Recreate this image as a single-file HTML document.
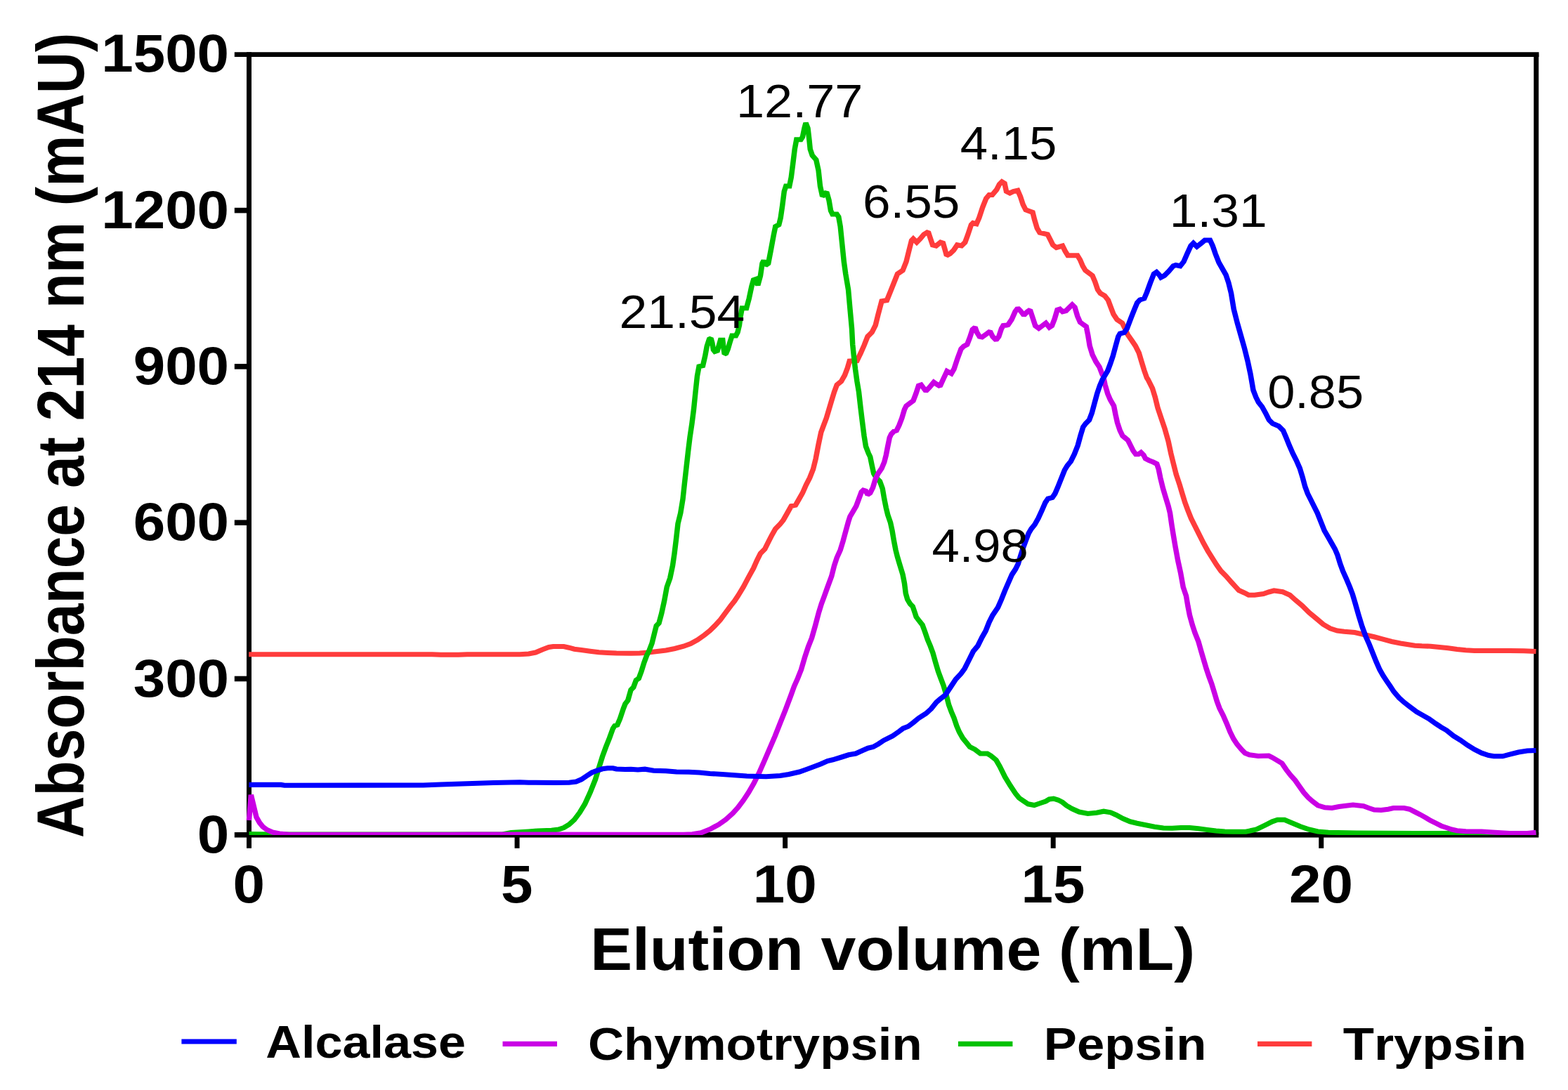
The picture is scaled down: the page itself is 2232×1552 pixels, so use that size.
<!DOCTYPE html>
<html lang="en"><head><meta charset="utf-8"><title>Elution profile</title>
<style>
html,body{margin:0;padding:0;background:#fff;overflow:hidden;}
svg{display:block;}
text{font-family:"Liberation Sans", Arial, Helvetica, sans-serif;fill:#000;font-kerning:none;}
#curves path{fill:none;stroke-width:7.1;stroke-linejoin:miter;stroke-miterlimit:1.5;stroke-linecap:butt;}
#legend path{fill:none;stroke-width:7.2;}
</style></head>
<body>
<svg xmlns="http://www.w3.org/2000/svg" width="2232" height="1552" viewBox="0 0 2232 1552">
<rect width="2232" height="1552" fill="#fff"/>
<g stroke="#000" stroke-width="7.00" fill="none"><path d="M354.5 74.30 V1207.8" /><path d="M333.8 77.7 H2190.55" stroke-width="6.8"/><path d="M333.8 1188.75 H2190.25" stroke-width="7.6"/><path d="M2186.75 77.3 V1188.75" /><path d="M333.8 966.46 H354.5" stroke-width="7.6"/><path d="M333.8 744.17 H354.5" stroke-width="7.6"/><path d="M333.8 521.88 H354.5" stroke-width="7.6"/><path d="M333.8 299.59 H354.5" stroke-width="7.6"/><path d="M736.06 1188.75 V1207.8" /><path d="M1117.62 1188.75 V1207.8" /><path d="M1499.19 1188.75 V1207.8" /><path d="M1880.75 1188.75 V1207.8" /></g>
<clipPath id="pc"><rect x="340" y="60" width="1860" height="1129.06"/></clipPath>
<g id="curves" clip-path="url(#pc)"><g transform="scale(1.06 1)">
<path d="M334.2 931.8 L580.2 931.8 L592.0 932.2 L615.6 932.2 L627.4 931.8 L698.1 931.8 L709.9 931.0 L719.3 929.0 L728.8 924.8 L737.0 921.5 L742.9 920.5 L757.1 920.5 L764.2 922.2 L771.2 924.2 L780.7 925.5 L792.5 927.2 L804.2 928.8 L816.0 929.5 L827.8 930.0 L847.2 930.2 L859.0 930.0 L870.8 929.0 L882.5 927.5 L894.3 926.0 L906.1 923.5 L917.9 920.2 L927.4 916.5 L936.8 911.0 L946.2 904.0 L953.3 898.0 L960.4 890.5 L967.5 882.2 L974.5 872.2 L981.6 862.2 L986.3 856.0 L991.0 848.5 L998.1 836.0 L1005.9 820.5 L1011.8 809.2 L1016.5 798.0 L1021.2 788.0 L1027.1 781.8 L1031.8 771.8 L1036.6 761.8 L1041.3 753.0 L1047.2 746.8 L1051.9 740.5 L1056.6 731.8 L1062.5 720.5 L1068.4 719.2 L1073.1 710.5 L1077.8 701.8 L1082.5 690.5 L1087.3 680.5 L1092.0 668.0 L1095.5 653.0 L1099.1 633.0 L1102.6 615.5 L1106.1 605.5 L1109.7 595.5 L1113.2 583.0 L1116.7 570.5 L1120.3 558.0 L1123.8 548.0 L1129.7 543.0 L1134.4 534.2 L1138.0 524.2 L1140.8 514.2 L1150.9 513.5 L1155.7 503.0 L1160.4 491.8 L1165.1 479.2 L1171.0 473.0 L1175.7 463.0 L1179.2 448.0 L1184.0 428.8 L1191.0 427.5 L1195.8 415.0 L1200.5 402.5 L1205.2 390.0 L1212.3 385.0 L1217.0 372.5 L1220.5 357.5 L1224.1 342.5 L1226.4 340.0 L1231.1 345.0 L1235.8 340.0 L1240.6 333.8 L1246.5 330.0 L1248.8 337.5 L1252.4 348.8 L1257.1 350.0 L1263.0 345.0 L1266.5 346.2 L1268.9 355.0 L1271.2 363.8 L1275.9 361.2 L1280.7 356.2 L1285.4 348.8 L1291.3 350.0 L1296.0 345.0 L1299.5 335.0 L1304.2 320.0 L1306.6 317.5 L1311.3 318.8 L1314.9 310.0 L1319.6 295.0 L1324.3 282.5 L1328.3 277.5 L1332.5 277.5 L1338.4 270.0 L1342.0 262.5 L1345.5 258.8 L1349.1 261.2 L1351.4 272.5 L1356.1 275.0 L1360.8 272.5 L1366.7 271.2 L1370.3 280.0 L1373.8 291.2 L1377.4 298.8 L1386.8 302.5 L1389.2 312.5 L1392.7 325.0 L1396.2 331.2 L1406.8 333.8 L1410.4 341.2 L1413.9 348.8 L1418.6 352.5 L1426.9 350.0 L1430.4 357.5 L1434.0 363.8 L1438.7 363.8 L1446.9 363.8 L1450.5 370.0 L1454.0 378.8 L1457.5 385.0 L1462.3 388.8 L1467.0 392.5 L1470.5 401.2 L1474.1 412.5 L1477.6 417.5 L1483.5 421.2 L1488.2 427.5 L1491.7 437.5 L1495.3 447.5 L1500.0 455.0 L1507.1 460.0 L1510.6 467.5 L1514.2 476.2 L1520.0 485.0 L1524.8 492.5 L1529.5 502.5 L1533.0 515.0 L1536.6 527.5 L1540.1 538.0 L1541.7 540.5 L1547.6 553.0 L1551.2 565.5 L1554.7 580.5 L1559.4 595.5 L1564.2 610.5 L1568.9 628.0 L1572.4 645.5 L1575.9 660.5 L1579.5 675.5 L1584.2 690.5 L1587.7 703.0 L1591.3 715.5 L1594.8 725.5 L1599.5 738.0 L1604.2 748.0 L1610.1 760.5 L1616.0 773.0 L1621.9 784.2 L1627.8 794.2 L1633.7 804.2 L1639.6 813.0 L1646.7 820.5 L1653.8 829.2 L1659.7 836.0 L1663.7 840.5 L1670.8 844.0 L1676.7 847.2 L1684.9 847.2 L1696.7 845.5 L1703.8 843.0 L1710.8 841.0 L1722.6 842.8 L1732.1 847.2 L1739.2 854.0 L1748.6 862.2 L1758.0 872.2 L1767.5 880.5 L1776.9 889.0 L1786.3 894.8 L1795.8 898.0 L1805.2 899.2 L1819.3 900.5 L1833.5 904.0 L1845.3 906.8 L1857.1 910.2 L1868.9 913.5 L1880.7 916.0 L1900.0 919.2 L1909.4 919.8 L1921.2 920.2 L1933.0 921.5 L1944.8 922.8 L1956.6 924.5 L1968.4 925.8 L1980.2 926.5 L2003.8 926.5 L2027.4 926.5 L2046.2 926.8 L2062.7 927.5" stroke="#ff3c3c"/>
<path d="M334.4 1187.5 L367.9 1188.0 L660.4 1188.0 L674.5 1188.0 L686.3 1185.5 L709.9 1184.0 L721.7 1183.0 L740.6 1182.2 L750.0 1181.0 L757.1 1178.5 L764.2 1174.0 L771.2 1167.2 L778.3 1157.2 L785.4 1144.8 L792.5 1128.5 L799.5 1109.8 L804.2 1093.5 L809.0 1077.2 L813.7 1063.5 L818.4 1051.0 L823.1 1037.2 L825.5 1033.5 L829.0 1032.2 L832.5 1023.5 L837.3 1008.5 L839.6 1002.2 L843.2 997.2 L847.2 982.2 L850.7 978.5 L854.2 968.5 L857.8 966.0 L861.3 956.0 L864.9 943.5 L868.4 933.5 L871.9 926.0 L875.5 916.0 L879.0 901.0 L881.4 891.0 L884.9 887.2 L888.4 873.5 L892.0 856.0 L895.5 836.0 L899.8 823.0 L903.3 805.5 L905.7 788.0 L908.0 768.0 L910.4 745.5 L913.9 730.5 L917.0 710.5 L919.3 688.0 L921.7 665.5 L924.1 643.0 L926.4 623.0 L929.2 603.0 L931.6 583.0 L934.0 558.0 L936.3 535.5 L938.7 521.8 L943.9 520.5 L946.9 506.8 L949.3 493.0 L952.4 483.0 L954.7 481.8 L956.4 488.0 L958.0 498.0 L959.9 500.5 L963.4 499.2 L965.8 490.5 L967.5 484.2 L970.5 484.2 L971.7 495.5 L972.9 504.2 L975.2 503.0 L977.6 496.8 L980.0 488.0 L983.0 478.0 L988.2 478.0 L990.6 473.0 L992.9 463.0 L994.1 452.5 L996.5 438.8 L1002.4 438.8 L1005.9 425.0 L1009.4 407.5 L1011.8 398.8 L1015.3 397.5 L1017.7 406.2 L1021.2 392.5 L1023.6 375.0 L1025.5 371.2 L1028.3 377.5 L1031.8 375.0 L1035.4 355.0 L1038.9 335.0 L1041.3 322.5 L1046.0 320.0 L1048.3 310.0 L1050.7 292.5 L1053.1 272.5 L1055.4 265.0 L1060.1 265.0 L1062.5 252.5 L1064.9 232.5 L1067.2 212.5 L1069.6 198.8 L1075.5 198.8 L1077.8 195.0 L1080.2 182.5 L1082.1 175.0 L1084.9 182.5 L1086.8 200.0 L1088.0 212.5 L1090.8 221.2 L1096.0 227.5 L1099.1 242.5 L1101.4 265.0 L1104.4 279.5 L1110.1 273.5 L1113.2 285.0 L1115.6 300.0 L1117.9 305.0 L1123.8 305.0 L1126.2 308.8 L1128.5 322.5 L1130.9 347.5 L1133.3 372.5 L1135.6 390.0 L1139.2 412.5 L1141.5 440.0 L1143.9 468.0 L1145.0 490.5 L1146.7 508.0 L1148.6 525.5 L1150.9 543.0 L1153.3 558.0 L1155.7 580.5 L1158.0 600.5 L1160.4 620.5 L1162.7 635.5 L1166.3 645.5 L1168.6 650.5 L1171.0 663.0 L1173.3 674.2 L1176.9 680.5 L1181.6 685.5 L1185.1 695.5 L1187.5 710.5 L1189.9 723.0 L1192.2 733.0 L1195.8 744.2 L1198.1 755.5 L1200.5 770.5 L1202.8 783.0 L1205.2 793.0 L1208.7 805.5 L1212.3 818.0 L1214.6 830.5 L1216.3 844.8 L1218.6 853.5 L1222.2 859.8 L1225.7 863.5 L1228.1 871.0 L1230.4 878.5 L1234.0 883.5 L1238.7 889.8 L1242.2 899.8 L1245.8 911.0 L1249.3 919.8 L1252.8 929.8 L1256.4 943.5 L1259.9 956.0 L1263.4 966.0 L1267.0 976.0 L1270.5 988.5 L1274.1 1003.5 L1277.6 1013.5 L1281.1 1022.2 L1284.7 1033.5 L1288.2 1042.2 L1292.9 1051.0 L1297.6 1057.2 L1302.4 1063.5 L1309.4 1067.2 L1316.5 1073.0 L1325.9 1073.0 L1330.7 1076.0 L1337.7 1082.2 L1342.5 1091.0 L1349.5 1106.0 L1356.6 1118.5 L1363.7 1129.8 L1368.4 1136.0 L1373.6 1139.8 L1380.7 1144.8 L1388.9 1146.5 L1397.2 1143.5 L1404.2 1141.0 L1409.0 1138.0 L1414.9 1137.2 L1420.8 1139.0 L1426.7 1142.2 L1432.5 1147.2 L1439.6 1151.5 L1449.1 1156.0 L1460.8 1158.5 L1472.6 1157.2 L1482.1 1155.2 L1491.5 1156.8 L1498.6 1160.2 L1508.0 1165.5 L1517.5 1169.8 L1526.9 1172.2 L1538.7 1174.8 L1550.5 1177.2 L1562.3 1179.0 L1574.1 1179.2 L1585.8 1178.5 L1597.6 1178.5 L1609.4 1179.8 L1621.2 1181.5 L1633.0 1183.0 L1644.8 1184.0 L1656.6 1184.2 L1673.1 1184.2 L1687.3 1181.0 L1699.1 1174.8 L1708.5 1169.8 L1715.6 1167.2 L1725.0 1167.2 L1734.4 1171.5 L1746.2 1176.8 L1758.0 1181.0 L1769.8 1184.0 L1784.0 1185.2 L1821.7 1186.0 L1900.0 1186.5 L1909.4 1186.5 L2062.7 1186.5" stroke="#00c200"/>
<path d="M334.4 1168.0 L337.1 1131.8 L340.8 1148.0 L344.3 1163.5 L348.6 1171.5 L352.8 1177.0 L358.5 1181.5 L366.0 1185.0 L375.5 1187.0 L388.7 1188.2 L415.1 1188.4 L603.8 1188.4 L627.4 1188.0 L698.1 1188.0 L849.1 1188.4 L905.7 1188.4 L917.9 1188.2 L929.7 1187.8 L941.5 1185.8 L953.3 1180.8 L965.1 1174.0 L974.5 1167.0 L984.0 1158.0 L991.0 1149.8 L998.1 1139.8 L1005.2 1128.5 L1012.3 1115.5 L1019.3 1100.5 L1026.4 1083.5 L1033.5 1066.0 L1040.6 1048.5 L1047.6 1029.8 L1054.7 1011.0 L1061.8 991.0 L1066.5 977.2 L1071.2 966.0 L1075.9 953.5 L1080.7 936.0 L1085.4 921.0 L1090.1 908.5 L1094.8 891.0 L1099.5 872.2 L1103.1 859.8 L1106.6 849.8 L1111.3 836.0 L1116.7 820.5 L1120.3 805.5 L1123.8 794.2 L1128.5 783.0 L1132.1 770.5 L1135.6 756.8 L1139.2 743.0 L1141.5 735.5 L1145.0 729.2 L1149.8 720.5 L1153.3 710.5 L1156.8 700.5 L1159.2 698.0 L1162.7 699.2 L1165.1 704.2 L1168.6 701.8 L1172.2 694.2 L1175.7 681.8 L1179.2 674.2 L1184.0 666.8 L1187.5 658.0 L1189.9 648.0 L1192.2 635.5 L1194.6 623.0 L1196.9 618.0 L1200.5 614.2 L1204.0 613.0 L1207.5 605.5 L1211.1 595.5 L1214.6 583.0 L1217.0 578.0 L1221.7 574.2 L1226.4 570.5 L1230.0 560.5 L1233.5 549.2 L1237.0 548.0 L1240.6 553.0 L1243.4 556.8 L1248.1 551.8 L1254.0 544.2 L1257.5 546.8 L1262.3 550.0 L1267.0 539.2 L1271.7 528.5 L1277.6 531.8 L1281.1 525.5 L1285.8 510.5 L1290.6 496.8 L1294.1 493.0 L1298.8 490.5 L1302.4 480.5 L1305.9 469.2 L1309.4 466.0 L1311.8 473.0 L1315.3 479.2 L1318.9 480.0 L1324.8 475.5 L1329.5 471.8 L1333.0 479.2 L1337.7 484.2 L1341.3 479.2 L1344.8 468.0 L1347.2 463.5 L1351.9 463.0 L1353.8 462.5 L1358.5 455.0 L1363.2 443.8 L1366.7 438.8 L1370.3 442.5 L1375.0 448.8 L1379.7 443.8 L1383.3 441.2 L1386.8 452.5 L1390.3 463.8 L1395.0 467.5 L1399.8 463.8 L1404.5 460.0 L1409.2 466.2 L1412.7 463.8 L1416.3 453.8 L1419.8 441.2 L1423.3 440.0 L1426.9 443.8 L1431.6 442.5 L1436.3 437.5 L1439.9 433.8 L1443.4 437.5 L1446.9 450.0 L1450.5 458.8 L1455.2 462.5 L1458.7 465.0 L1461.1 477.5 L1463.4 492.5 L1467.0 505.0 L1471.7 515.0 L1476.4 522.5 L1480.0 532.5 L1481.6 535.5 L1484.0 548.0 L1487.5 560.5 L1491.0 569.2 L1495.8 578.0 L1498.1 590.5 L1500.5 601.8 L1504.0 613.0 L1507.5 620.5 L1514.6 626.8 L1518.2 634.2 L1521.7 641.8 L1525.2 646.8 L1528.8 646.8 L1532.3 644.2 L1535.8 648.0 L1538.2 653.0 L1542.9 655.5 L1548.8 658.0 L1553.5 660.5 L1555.9 668.0 L1558.3 680.5 L1561.8 695.5 L1565.3 708.0 L1568.9 720.5 L1571.2 730.5 L1573.6 748.0 L1575.9 763.0 L1578.3 778.0 L1581.8 798.0 L1585.4 815.5 L1588.9 836.0 L1592.9 848.5 L1595.3 863.5 L1597.6 876.0 L1601.2 889.8 L1604.7 901.0 L1609.4 913.5 L1613.0 927.2 L1616.5 939.8 L1620.0 952.2 L1623.6 963.5 L1627.1 973.5 L1630.7 986.0 L1634.2 998.5 L1637.7 1008.5 L1642.5 1018.5 L1647.2 1029.8 L1651.9 1042.2 L1656.6 1052.2 L1661.3 1059.8 L1667.2 1067.2 L1671.9 1072.2 L1677.8 1074.8 L1689.6 1076.5 L1703.8 1076.0 L1708.5 1078.5 L1714.4 1082.2 L1721.5 1086.8 L1727.4 1096.0 L1733.3 1104.0 L1739.2 1111.0 L1745.0 1119.8 L1750.9 1128.5 L1756.8 1135.5 L1762.7 1141.0 L1769.8 1146.8 L1779.2 1149.8 L1788.7 1150.5 L1798.1 1148.5 L1807.5 1147.2 L1817.0 1146.0 L1831.1 1147.8 L1838.2 1150.5 L1845.3 1153.0 L1854.7 1153.5 L1864.2 1152.2 L1871.2 1150.5 L1885.4 1150.5 L1892.9 1152.2 L1900.0 1156.0 L1907.1 1159.8 L1914.2 1164.0 L1921.2 1168.5 L1928.3 1172.2 L1935.4 1176.0 L1942.5 1178.5 L1949.5 1181.0 L1956.6 1182.8 L1968.4 1183.8 L1989.6 1184.0 L2003.8 1185.0 L2027.4 1186.5 L2050.9 1186.5 L2062.7 1185.2" stroke="#ca00e5"/>
<path d="M334.4 1117.4 L377.4 1117.4 L382.1 1118.2 L568.4 1118.0 L592.0 1117.0 L627.4 1115.8 L662.7 1114.5 L698.1 1113.8 L709.9 1114.2 L745.3 1114.5 L764.2 1114.2 L773.6 1113.0 L780.7 1109.8 L787.7 1104.8 L794.8 1100.0 L801.9 1097.2 L809.0 1094.8 L816.0 1093.8 L823.1 1093.8 L827.8 1095.0 L839.6 1095.5 L847.2 1095.2 L856.6 1096.0 L866.0 1095.2 L877.8 1097.2 L894.3 1097.8 L908.5 1099.0 L925.0 1099.2 L939.2 1100.0 L953.3 1101.5 L969.8 1102.5 L986.3 1103.8 L1002.8 1105.0 L1019.3 1105.5 L1028.8 1105.8 L1047.6 1104.5 L1059.4 1102.5 L1073.6 1099.0 L1083.0 1095.5 L1092.5 1091.8 L1101.9 1088.0 L1111.3 1083.5 L1118.4 1081.8 L1130.2 1078.0 L1139.6 1074.8 L1149.1 1073.0 L1158.5 1068.5 L1165.6 1065.2 L1172.6 1063.5 L1179.7 1059.2 L1186.8 1054.2 L1198.6 1048.0 L1208.0 1041.0 L1212.7 1037.2 L1219.8 1034.2 L1226.9 1028.5 L1234.0 1022.2 L1243.4 1016.0 L1250.5 1009.2 L1257.5 999.8 L1262.3 995.5 L1269.3 989.8 L1276.4 978.5 L1283.5 967.2 L1290.6 959.0 L1295.3 952.2 L1302.4 937.2 L1307.1 927.2 L1313.0 919.8 L1318.9 907.2 L1323.6 898.5 L1328.3 886.0 L1333.0 876.0 L1340.1 864.8 L1344.8 853.5 L1349.5 841.0 L1359.0 818.0 L1363.7 810.5 L1367.2 803.0 L1370.8 790.5 L1374.3 779.2 L1377.8 769.2 L1381.4 759.2 L1384.9 753.0 L1389.6 746.8 L1394.3 738.0 L1399.1 726.8 L1403.8 715.5 L1407.3 710.0 L1413.2 708.5 L1416.7 703.0 L1420.3 694.2 L1425.0 681.8 L1429.7 669.2 L1433.3 663.0 L1438.0 656.8 L1442.7 646.8 L1447.4 634.2 L1450.9 620.5 L1454.5 608.0 L1458.0 603.0 L1462.7 598.0 L1466.3 588.0 L1469.8 574.2 L1473.3 560.5 L1476.9 549.2 L1480.4 540.5 L1484.0 534.2 L1487.5 528.0 L1491.0 518.0 L1494.6 506.8 L1498.1 493.0 L1501.7 479.2 L1504.0 475.0 L1509.9 473.5 L1513.4 468.0 L1518.9 452.5 L1523.6 440.0 L1527.1 431.2 L1530.7 427.0 L1536.6 425.0 L1540.1 416.2 L1544.8 402.5 L1549.5 390.0 L1553.1 387.5 L1556.6 391.2 L1559.0 395.0 L1563.7 392.5 L1569.6 386.2 L1575.5 378.8 L1579.0 377.5 L1584.9 378.8 L1589.6 372.5 L1594.3 361.2 L1599.1 350.0 L1602.6 346.2 L1607.3 351.2 L1613.2 346.2 L1617.9 342.0 L1625.0 342.0 L1628.5 350.0 L1632.1 361.2 L1636.8 373.8 L1641.5 382.5 L1646.2 391.2 L1649.8 402.5 L1653.3 417.5 L1656.8 440.0 L1661.6 460.0 L1666.3 477.5 L1671.0 495.0 L1675.7 515.0 L1679.2 532.5 L1683.0 555.5 L1686.6 565.5 L1690.1 573.0 L1694.8 579.2 L1699.5 588.0 L1704.2 598.0 L1709.0 603.0 L1717.2 606.8 L1723.1 613.0 L1726.7 621.8 L1731.4 634.2 L1736.1 645.5 L1740.8 655.5 L1745.5 666.8 L1749.1 679.2 L1752.6 693.0 L1756.1 703.0 L1759.7 710.5 L1764.4 720.5 L1769.1 730.5 L1773.8 743.0 L1778.5 755.5 L1783.3 764.2 L1788.0 773.0 L1792.7 781.8 L1796.2 790.5 L1799.8 803.0 L1803.3 813.0 L1808.0 824.2 L1812.7 836.0 L1816.3 846.0 L1819.8 858.5 L1824.5 876.0 L1829.2 892.2 L1834.0 906.0 L1838.7 917.2 L1843.4 929.8 L1848.1 942.2 L1852.8 953.5 L1857.5 962.2 L1862.3 969.8 L1867.0 977.2 L1871.7 984.8 L1878.8 993.5 L1885.8 1000.2 L1892.9 1006.0 L1902.4 1013.5 L1909.4 1017.8 L1918.9 1023.5 L1928.3 1030.5 L1935.4 1035.5 L1942.5 1039.8 L1951.9 1047.8 L1961.3 1054.0 L1970.8 1061.0 L1980.2 1067.2 L1989.6 1072.2 L1999.1 1075.5 L2006.1 1076.8 L2017.9 1076.8 L2027.4 1074.2 L2039.2 1071.0 L2050.9 1069.0 L2062.7 1068.5" stroke="#0000ff"/>
</g></g>
<g id="legend"><path d="M258.4 1483.0 H336.8" stroke="#0000ff"/><path d="M715.5 1486.4 H793.0" stroke="#ca00e5"/><path d="M1363.95 1486.4 H1441.4" stroke="#00c200"/><path d="M1790.0 1486.4 H1867.4" stroke="#ff3c3c"/></g>
<g id="labels">
<text transform="translate(326.10 1213.90) scale(1.0830 1)" font-size="75.50" font-weight="bold" text-anchor="end">0</text>
<text transform="translate(326.10 991.61) scale(1.0830 1)" font-size="75.50" font-weight="bold" text-anchor="end">300</text>
<text transform="translate(326.10 769.32) scale(1.0830 1)" font-size="75.50" font-weight="bold" text-anchor="end">600</text>
<text transform="translate(326.10 547.03) scale(1.0830 1)" font-size="75.50" font-weight="bold" text-anchor="end">900</text>
<text transform="translate(326.10 324.74) scale(1.0830 1)" font-size="75.50" font-weight="bold" text-anchor="end">1200</text>
<text transform="translate(326.10 102.45) scale(1.0830 1)" font-size="75.50" font-weight="bold" text-anchor="end">1500</text>
<text transform="translate(354.20 1285.40) scale(1.0830 1)" font-size="75.50" font-weight="bold" text-anchor="middle">0</text>
<text transform="translate(735.76 1285.40) scale(1.0830 1)" font-size="75.50" font-weight="bold" text-anchor="middle">5</text>
<text transform="translate(1117.33 1285.40) scale(1.0830 1)" font-size="75.50" font-weight="bold" text-anchor="middle">10</text>
<text transform="translate(1498.89 1285.40) scale(1.0830 1)" font-size="75.50" font-weight="bold" text-anchor="middle">15</text>
<text transform="translate(1880.45 1285.40) scale(1.0830 1)" font-size="75.50" font-weight="bold" text-anchor="middle">20</text>
<text transform="translate(840.20 1381.30) scale(1.0564 1)" font-size="84.80" font-weight="bold">Elution volume (mL)</text>
<text transform="translate(119.30 1192.90) rotate(-90) scale(0.8744 1)" font-size="94.00" font-weight="bold">Absorbance at 214 nm (mAU)</text>
<text transform="translate(378.25 1505.80) scale(1.0880 1)" font-size="64.50" font-weight="bold">Alcalase</text>
<text transform="translate(837.00 1508.70) scale(1.0970 1)" font-size="64.50" font-weight="bold">Chymotrypsin</text>
<text transform="translate(1485.80 1508.70) scale(1.0950 1)" font-size="64.50" font-weight="bold">Pepsin</text>
<text transform="translate(1911.70 1508.70) scale(1.1220 1)" font-size="64.50" font-weight="bold">Trypsin</text>
<text transform="translate(1048.00 166.80) scale(1.0860 1)" font-size="66.40">12.77</text>
<text transform="translate(1366.70 226.70) scale(1.0650 1)" font-size="66.40">4.15</text>
<text transform="translate(1227.90 310.30) scale(1.0700 1)" font-size="66.40">6.55</text>
<text transform="translate(1664.80 323.00) scale(1.0750 1)" font-size="66.40">1.31</text>
<text transform="translate(881.50 467.00) scale(1.0760 1)" font-size="66.40">21.54</text>
<text transform="translate(1804.15 580.50) scale(1.0600 1)" font-size="66.40">0.85</text>
<text transform="translate(1326.40 800.00) scale(1.0640 1)" font-size="66.40">4.98</text>
</g>
</svg>
</body></html>
